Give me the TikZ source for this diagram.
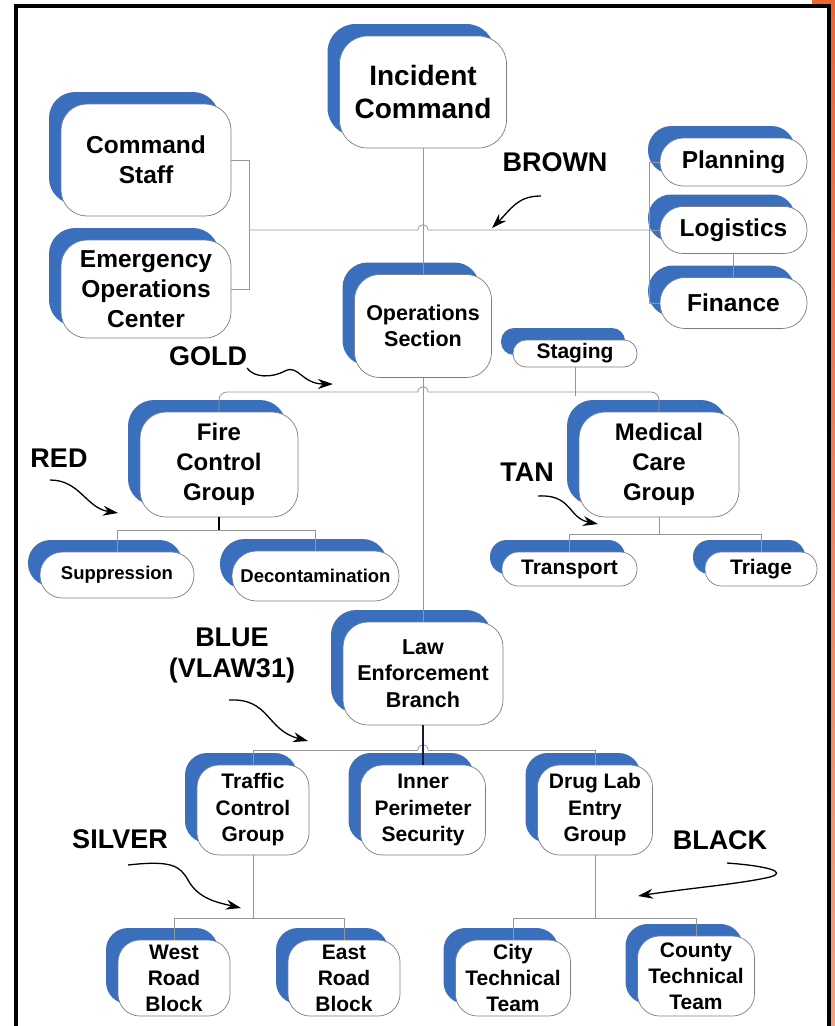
\documentclass[tikz,border=0pt]{standalone}
\usepackage{fontspec}
\setmainfont{Liberation Sans}
\usetikzlibrary{shadows,arrows.meta,calc}
\definecolor{nodeblue}{RGB}{58,111,190}
\definecolor{boxgray}{RGB}{125,125,125}
\definecolor{linegray}{RGB}{150,150,150}
\definecolor{frameorange}{RGB}{240,100,50}
\definecolor{framesalmon}{RGB}{245,160,130}
\definecolor{darknavy}{RGB}{25,25,60}
\newcommand\myfs[2]{\fontsize{#1}{#2}\selectfont}
\begin{document}
\begin{tikzpicture}[x=1pt,y=-1pt,
  box/.style={draw=boxgray, line width=0.7pt, fill=white, inner sep=0pt, align=center,
    general shadow={fill=nodeblue, shadow xshift=-12pt, shadow yshift=12pt}},
  conn/.style={draw=linegray, line width=0.8pt},
  lbl/.style={font=\bfseries\myfs{27}{31}, align=center, inner sep=0pt},
  note/.style={line width=1.3pt, -{Stealth[length=15pt,width=10pt]}}
]
\useasboundingbox (0,0) rectangle (835,1026);
% frame
\fill[frameorange] (812,0) rectangle (835,5);
\shade[top color=frameorange, bottom color=framesalmon] (831,0) rectangle (835,1026);
\draw[line width=4pt] (16,1040) -- (16,6) -- (829,6) -- (829,1040);

% nodes
\node[box, minimum width=167pt, minimum height=112pt, rounded corners=28pt, font=\bfseries\myfs{28}{33}] (ic) at (423,92) {Incident\\Command};
\node[box, minimum width=170pt, minimum height=112pt, rounded corners=26pt, font=\bfseries\myfs{24.5}{30}] (cs) at (146,160) {Command\\Staff};
\node[box, minimum width=170pt, minimum height=98pt, rounded corners=26pt, font=\bfseries\myfs{24.5}{30}] (eoc) at (146,289) {Emergency\\Operations\\Center};
\node[box, minimum width=147pt, minimum height=48pt, rounded corners=23.5pt, font=\bfseries\myfs{24.5}{30}] (plan) at (733.5,162) {Planning};
\node[box, minimum width=147pt, minimum height=47pt, rounded corners=23pt, font=\bfseries\myfs{24.5}{30}] (log) at (733.5,230) {Logistics};
\node[box, minimum width=147pt, minimum height=51pt, rounded corners=25pt, font=\bfseries\myfs{24.5}{30}] (fin) at (733.5,303) {Finance};
\node[box, minimum width=137pt, minimum height=103pt, rounded corners=25pt, font=\bfseries\myfs{21.5}{26.5}] (ops) at (423,326) {Operations\\Section};
\node[box, minimum width=124pt, minimum height=27pt, rounded corners=13pt, font=\bfseries\myfs{21}{26}] (stag) at (575,353.5) {Staging};
\node[box, minimum width=158pt, minimum height=105pt, rounded corners=26pt, font=\bfseries\myfs{24}{30}] (fire) at (219,464.5) {Fire\\Control\\Group};
\node[box, minimum width=160pt, minimum height=105pt, rounded corners=26pt, font=\bfseries\myfs{24}{30}] (med) at (659,464.5) {Medical\\Care\\Group};
\node[box, minimum width=154pt, minimum height=46pt, rounded corners=22.5pt, font=\bfseries\myfs{18.5}{22}] (sup) at (117,575) {Suppression};
\node[box, minimum width=167pt, minimum height=50pt, rounded corners=24.5pt, font=\bfseries\myfs{18.5}{22}] (deco) at (315.5,576) {Decontamination};
\node[box, minimum width=135pt, minimum height=34pt, rounded corners=16.5pt, font=\bfseries\myfs{21}{24}] (trans) at (569.5,569) {Transport};
\node[box, minimum width=112pt, minimum height=34pt, rounded corners=16.5pt, font=\bfseries\myfs{21}{24}] (tri) at (761,569) {Triage};
\node[box, minimum width=160pt, minimum height=103pt, rounded corners=25pt, font=\bfseries\myfs{21.5}{26.5}] (law) at (423,673.5) {Law\\Enforcement\\Branch};
\node[box, minimum width=112pt, minimum height=90pt, rounded corners=22pt, font=\bfseries\myfs{21}{26.5}] (traf) at (253,810) {Traffic\\Control\\Group};
\node[box, minimum width=125pt, minimum height=90pt, rounded corners=22pt, font=\bfseries\myfs{21}{26.5}] (inner) at (423,810) {Inner\\Perimeter\\Security};
\node[box, minimum width=115pt, minimum height=90pt, rounded corners=22pt, font=\bfseries\myfs{21}{26.5}] (drug) at (595,810) {Drug Lab\\Entry\\Group};
\node[box, minimum width=112pt, minimum height=76pt, rounded corners=22pt, font=\bfseries\myfs{21}{26}] (west) at (174,978) {West\\Road\\Block};
\node[box, minimum width=112pt, minimum height=76pt, rounded corners=22pt, font=\bfseries\myfs{21}{26}] (east) at (344,978) {East\\Road\\Block};
\node[box, minimum width=115pt, minimum height=76pt, rounded corners=22pt, font=\bfseries\myfs{21}{26}] (city) at (513,978) {City\\Technical\\Team};
\node[box, minimum width=117pt, minimum height=80pt, rounded corners=22pt, font=\bfseries\myfs{21}{26}] (county) at (696,976) {County\\Technical\\Team};

% labels
\node[lbl] (brown) at (555,162) {BROWN};
\node[lbl] (gold) at (208,356) {GOLD};
\node[lbl] (red) at (59,458) {RED};
\node[lbl] (tan) at (527,472) {TAN};
\node[lbl] (blue) at (232,656) {BLUE\\(VLAW31)};
\node[lbl] (silver) at (120,839) {SILVER};
\node[lbl] (black) at (720,840) {BLACK};

% connectors - top
\coordinate (jL) at (249,230);
\coordinate (jR) at (649,230);
\coordinate (c1) at (ic.south |- jL);
\draw[conn] (ic.south) -- (ops.north);
\draw[conn] (jL) -- ($(c1)+(-5,0)$) .. controls ($(c1)+(-5,-7)$) and ($(c1)+(5,-7)$) .. ($(c1)+(5,0)$) -- (jR);
\draw[conn] (cs.east) -- (cs.east -| jL) -- (eoc.east -| jL) -- (eoc.east);
\draw[conn] (plan.west) -- (plan.west -| jR) -- (fin.west -| jR) -- (fin.west);
\draw[conn] (log.west) -- (log.west -| jR);
\draw[conn] (log.south) -- (fin.north);

% operations level
\coordinate (gy) at (0,392);
\coordinate (c2) at (ops.south |- gy);
\draw[conn] (ops.south) -- (law.north);
\draw[conn, rounded corners=8pt] (fire.north) |- ($(c2)+(-5,0)$);
\draw[conn] ($(c2)+(-5,0)$) .. controls ($(c2)+(-5,-7)$) and ($(c2)+(5,-7)$) .. ($(c2)+(5,0)$);
\draw[conn, rounded corners=8pt] ($(c2)+(5,0)$) -| (med.north);
\coordinate (sy) at (0,396);
\draw[conn] (stag.south) -- (stag.south |- sy);

% fire group
\coordinate (fy) at (0,530);
\draw[conn] (sup.north) |- (fy -| deco.north) -- (deco.north);
\draw[line width=1.5pt] (fire.south) -- (fire.south |- fy);

% medical group
\coordinate (my) at (0,534);
\draw[conn] (med.south) -- (med.south |- my);
\draw[conn] (trans.north) |- (my -| tri.north) -- (tri.north);

% law branch
\coordinate (ly) at (0,750);
\coordinate (c3) at (law.south |- ly);
\draw[conn] (traf.north) |- ($(c3)+(-5,0)$);
\draw[conn] ($(c3)+(-5,0)$) .. controls ($(c3)+(-5,-7)$) and ($(c3)+(5,-7)$) .. ($(c3)+(5,0)$);
\draw[conn] ($(c3)+(5,0)$) -| (drug.north);
\draw[darknavy, line width=1.3pt] (law.south) -- (inner.north);

% bottom groups
\coordinate (by) at (0,918);
\draw[conn] (traf.south) -- (traf.south |- by);
\draw[conn] (west.north) |- (by -| east.north) -- (east.north);
\draw[conn] (drug.south) -- (drug.south |- by);
\draw[conn] (city.north) |- (by -| county.north) -- (county.north);

% annotation arrows
\coordinate (bA) at (541,196); \coordinate (bB) at (492,228);
\draw[note] (bA) .. controls (518,196) and (512,208) .. (bB);
\coordinate (gA) at (247,368); \coordinate (gB) at (333,384);
\draw[note] (gA) .. controls (254,378) and (272,378) .. (285,371) .. controls (298,364) and (302,384) .. (gB);
\coordinate (rA) at (50,480); \coordinate (rB) at (118,513);
\draw[note] (rA) .. controls (80,480) and (86,508) .. (rB);
\coordinate (tA) at (538,496); \coordinate (tB) at (598,524);
\draw[note] (tA) .. controls (572,494) and (568,518) .. (tB);
\coordinate (uA) at (229,700); \coordinate (uB) at (308,741);
\draw[note] (uA) .. controls (270,698) and (266,730) .. (uB);
\coordinate (sA) at (128,865); \coordinate (sB) at (241,908);
\draw[note] (sA) .. controls (172,860) and (180,866) .. (188,880) .. controls (198,898) and (215,902) .. (sB);
\coordinate (kA) at (727,863); \coordinate (kB) at (638,896);
\draw[note] (kA) .. controls (768,866) and (788,872) .. (770,877) .. controls (740,884) and (690,888) .. (kB);
\end{tikzpicture}
\end{document}
